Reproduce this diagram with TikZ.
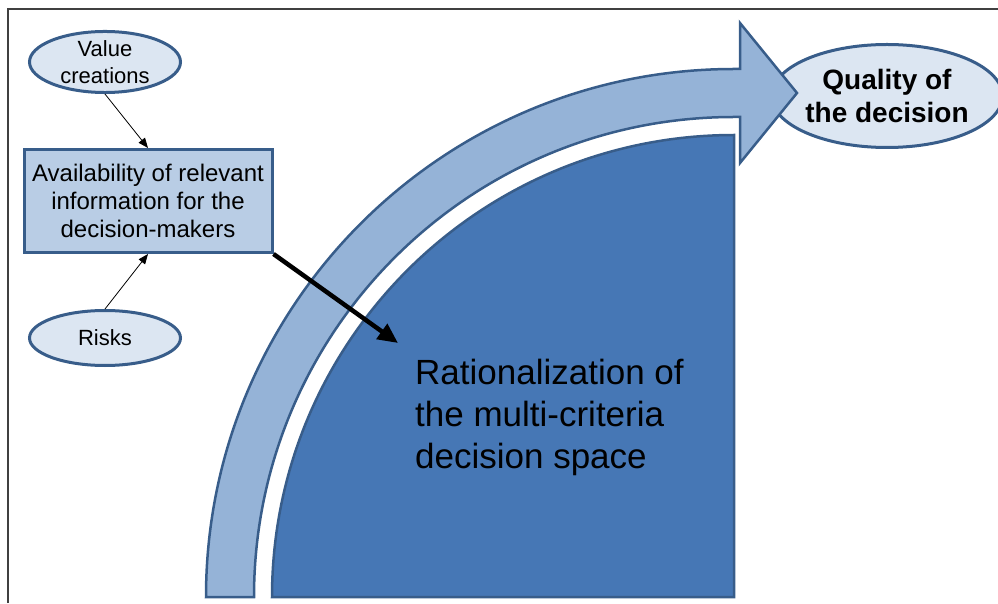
\documentclass[tikz,border=0pt]{standalone}
\usepackage{fontspec}
\setmainfont{Liberation Sans}
\usetikzlibrary{shapes.geometric,arrows.meta}
\definecolor{edgeblue}{HTML}{385D8A}
\definecolor{spacefill}{HTML}{4677B5}
\definecolor{bandfill}{HTML}{95B3D7}
\definecolor{boxfill}{HTML}{B9CDE5}
\definecolor{ovalfill}{HTML}{DCE6F2}

\begin{document}
\begin{tikzpicture}[x=1pt,y=1pt,
  oval/.style={ellipse,draw=edgeblue,line width=3pt,fill=ovalfill,inner sep=0pt,align=center,font=\fontsize{22}{27}\selectfont},
  thin arrow/.style={-{Triangle[length=10pt,width=8pt]},line width=0.8pt}]
\useasboundingbox (0,0) rectangle (998,603);
\draw[line width=1.2pt,black!75] (8,0) -- (8,594) -- (998,594);
\node[oval,minimum width=218pt,minimum height=103pt,font=\fontsize{28}{33}\selectfont\bfseries] (q) at (887,507) {Quality of\\the decision};
% decision space and the curved arrow
\draw[draw=edgeblue,line width=2.5pt,fill=spacefill] (272,6) arc[start angle=180,end angle=90,radius=462] -- (734,6) -- cycle;
\draw[draw=edgeblue,line width=2.5pt,fill=bandfill] (206,6) arc[start angle=180,end angle=90,radius=528] -- (740,534) -- (740,580) -- (797,510) -- (740,440) -- (740,486) -- (734,486) arc[start angle=90,end angle=180,radius=480] -- cycle;
\node[anchor=north west,align=left,inner sep=0pt,font=\fontsize{35}{42}\selectfont] (rat) at (415,244) {Rationalization of\\the multi-criteria\\decision space};
\node[oval,minimum width=151pt,minimum height=58pt] (val) at (105,541) {Value\\creations};
\node[oval,minimum width=151pt,minimum height=55pt] (risk) at (105,265) {Risks};
\node[draw=edgeblue,line width=3pt,fill=boxfill,minimum width=248pt,minimum height=103pt,align=center,font=\fontsize{24}{28}\selectfont] (info) at (148,402) {Availability of relevant\\information for the\\decision-makers};
\coordinate (tip) at (398,260);
\draw[thin arrow] (val.south) -- (info.north);
\draw[thin arrow] (risk.north) -- (info.south);
\draw[-{Triangle[length=20pt,width=18pt]},line width=4.5pt] (info.south east) -- (tip);
\end{tikzpicture}
\end{document}
